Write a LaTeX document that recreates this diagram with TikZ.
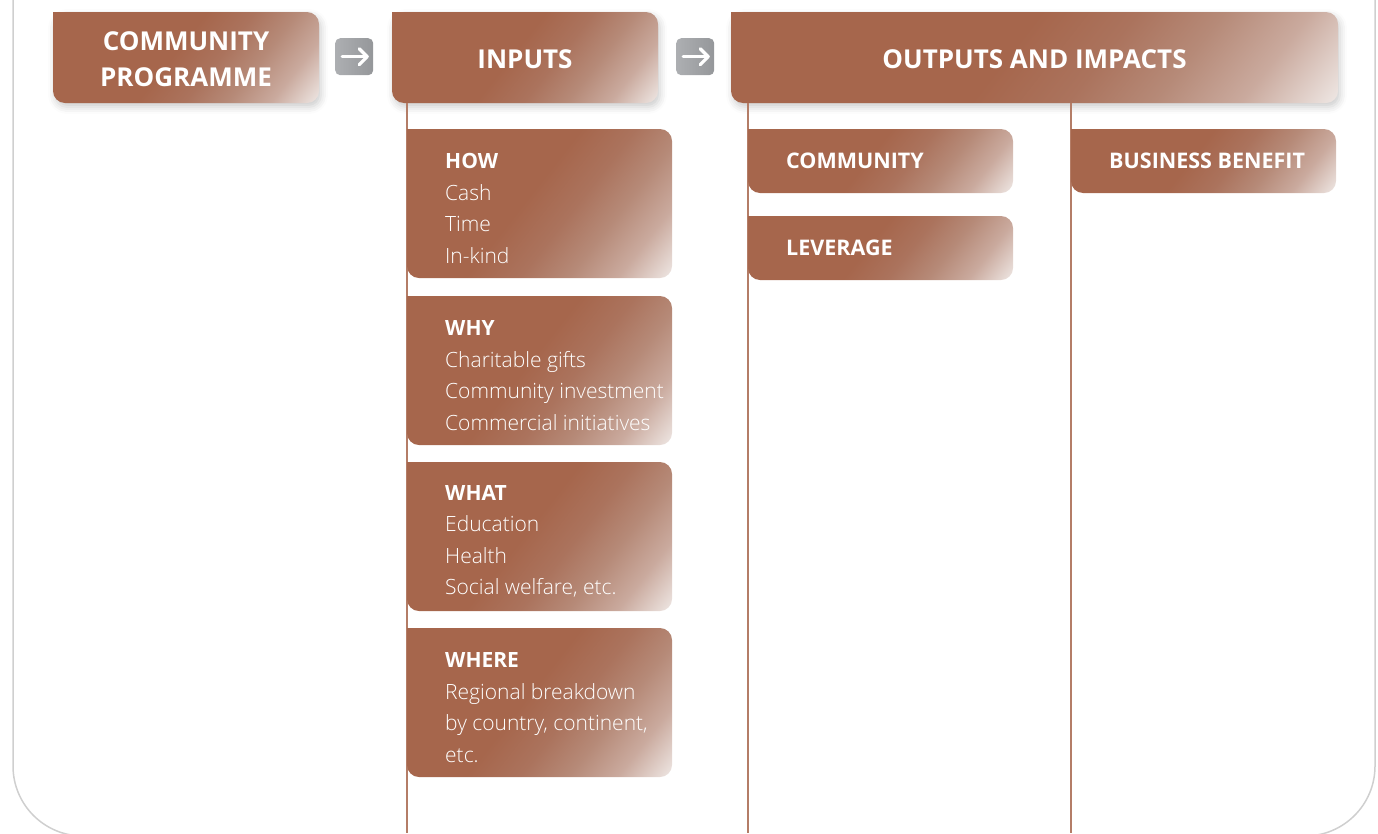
\documentclass[tikz,border=0pt]{standalone}
\usepackage{fontspec}
\setmainfont{Open Sans}
\newfontfamily\lightfont{Open Sans Light}
\usetikzlibrary{shadows.blur}

\definecolor{brn}{HTML}{A6664C}
\definecolor{brnA}{HTML}{AB735D}
\definecolor{brnB}{HTML}{B68A78}
\definecolor{brnC}{HTML}{CAAA9E}
\definecolor{lite}{HTML}{EFE8E5}
\definecolor{framegray}{HTML}{CFCFCF}
\definecolor{rule}{HTML}{B47D67}
\definecolor{iconL}{HTML}{ADAFB2}
\definecolor{iconR}{HTML}{95979A}

% diagonal fade used by every brown box
\pgfdeclarehorizontalshading{boxfade}{100bp}{%
  color(0bp)=(brn); color(47bp)=(brn); color(57bp)=(brnA);
  color(66bp)=(brnB); color(75bp)=(brnC); color(85bp)=(lite); color(100bp)=(lite)}

\begin{document}
\begin{tikzpicture}[x=1pt,y=-1pt,
  brownbox/.style={shading=boxfade, shading angle=-38, rounded corners=12pt,
    anchor=north west, inner sep=0pt, outer sep=0pt, text=white},
  headbox/.style={brownbox, minimum height=91pt,
    blur shadow={shadow xshift=2pt, shadow yshift=-4pt, shadow blur radius=7pt, shadow opacity=20}},
  headtext/.style={inner sep=0pt, text=white, align=center,
    font=\fontsize{26}{36}\selectfont\bfseries},
  tallbox/.style={brownbox, minimum width=265pt, minimum height=149pt},
  flatbox/.style={brownbox, minimum width=265pt, minimum height=64pt},
  boxtext/.style={anchor=west, inner sep=0pt, text=white, align=left,
    font=\fontsize{21}{31.5}\selectfont},
  labeltext/.style={boxtext, font=\fontsize{21.5}{26}\selectfont\bfseries},
  iconbox/.style={anchor=north west, inner sep=0pt, rounded corners=5pt,
    left color=iconL, right color=iconR, minimum width=38pt, minimum height=37pt},
  iconarrow/.style={white, line width=3.2pt, line cap=round, line join=round},
  colrule/.style={rule, line width=1.5pt},
]
\useasboundingbox (0,0) rectangle (1378,833);

% outer frame, open at the top
\draw[framegray, line width=1.5pt, rounded corners=70pt]
  (13,-120) -- (13,836) -- (1375,836) -- (1375,-120);

% header row
\node[headbox, minimum width=266pt] (prog) at (53,12) {};
\node[headbox, minimum width=266pt] (inputs) at (392,12) {};
\node[headbox, minimum width=607pt] (outputs) at (731,12) {};

\node[iconbox] (icon1) at (335,38) {};
\node[iconbox] (icon2) at (676,38) {};
\foreach \ic in {icon1,icon2}{
  \draw[iconarrow] ([xshift=-12pt]\ic.center) -- ([xshift=13pt]\ic.center);
  \draw[iconarrow] ([xshift=5pt,yshift=8pt]\ic.center) -- ([xshift=13pt]\ic.center)
    -- ([xshift=5pt,yshift=-8pt]\ic.center);
}

% column rules
\coordinate (inbot) at (407,833);
\coordinate (combot) at (748,833);
\coordinate (busbot) at (1071,833);
\draw[colrule] (inputs.south -| inbot) -- (inbot);
\draw[colrule] (outputs.south -| combot) -- (combot);
\draw[colrule] (outputs.south -| busbot) -- (busbot);

% input boxes
\node[tallbox] (how) at (407,129) {};
\node[tallbox] (why) at (407,296) {};
\node[tallbox] (what) at (407,462) {};
\node[tallbox] (where) at (407,628) {};

% output boxes
\node[flatbox] (comm) at (748,129) {};
\node[flatbox] (lev) at (748,216) {};
\node[flatbox] (bus) at (1071,129) {};

% square top-left corners
\foreach \b in {prog,inputs,outputs,how,why,what,where,comm,lev,bus}{
  \fill[brn] (\b.north west) rectangle ++(12,12);
}

% header titles
\node[headtext] (progtxt) at ([yshift=-2pt]prog.center) {COMMUNITY\\PROGRAMME};
\node[headtext] (inputstxt) at ([yshift=-2pt]inputs.center) {INPUTS};
\node[headtext] (outputstxt) at ([yshift=-2pt]outputs.center) {OUTPUTS AND IMPACTS};

\node[boxtext] (howtxt) at ([xshift=38pt,yshift=-5pt]how.west)
  {\textbf{HOW}\\\lightfont Cash\\\lightfont Time\\\lightfont In-kind};
\node[boxtext] (whytxt) at ([xshift=38pt,yshift=-5pt]why.west)
  {\textbf{WHY}\\\lightfont Charitable gifts\\\lightfont Community investment\\\lightfont Commercial initiatives};
\node[boxtext] (whattxt) at ([xshift=38pt,yshift=-5pt]what.west)
  {\textbf{WHAT}\\\lightfont Education\\\lightfont Health\\\lightfont Social welfare, etc.};
\node[boxtext] (wheretxt) at ([xshift=38pt,yshift=-5pt]where.west)
  {\textbf{WHERE}\\\lightfont Regional breakdown\\\lightfont by country, continent,\\\lightfont etc.};

\node[labeltext] (commtxt) at ([xshift=38pt]comm.west) {COMMUNITY};
\node[labeltext] (levtxt) at ([xshift=38pt]lev.west) {LEVERAGE};
\node[labeltext] (bustxt) at ([xshift=38pt]bus.west) {BUSINESS BENEFIT};
\end{tikzpicture}
\end{document}
